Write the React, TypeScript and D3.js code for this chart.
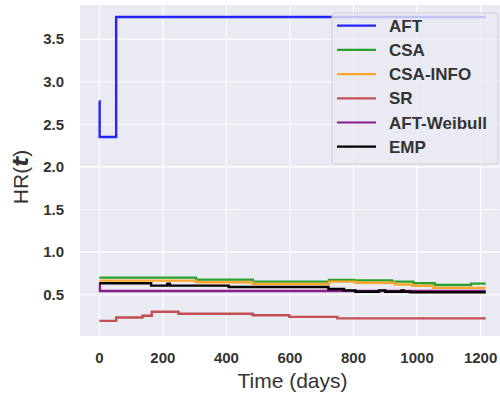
import React, { useRef, useEffect } from "react";
import * as d3 from "d3";

// step series (time in days, hazard ratio)
const aftT = [0, 1, 53, 1216];
const aftV = [2.77, 2.35, 3.76, 3.76];

const csaT = [0, 304, 483, 723, 801, 921, 988, 1056, 1170, 1216];
const csaV = [0.7, 0.677, 0.653, 0.673, 0.668, 0.653, 0.634, 0.614, 0.63, 0.63];

const infoT = [0, 304, 483, 723, 806, 930, 985, 1050, 1216];
const infoV = [0.665, 0.646, 0.626, 0.653, 0.64, 0.62, 0.605, 0.58, 0.58];

const srT = [0, 53, 136, 165, 249, 483, 598, 749, 1216];
const srV = [0.193, 0.233, 0.252, 0.3, 0.276, 0.258, 0.24, 0.222, 0.222];

const weibT = [0, 2, 1216];
const weibV = [0.63, 0.544, 0.544];

const empT = [0, 163, 214, 222, 407, 721, 770, 806, 880, 900, 951, 958, 978, 1216];
const empV = [0.634, 0.606, 0.63, 0.606, 0.59, 0.567, 0.55, 0.535, 0.55, 0.535, 0.55, 0.535, 0.528, 0.528];

const xTicks = [0, 200, 400, 600, 800, 1000, 1200];
const yTicks = [0.5, 1.0, 1.5, 2.0, 2.5, 3.0, 3.5];

const series = [
  { label: "AFT", color: "#2424ff", t: aftT, v: aftV },
  { label: "CSA", color: "#2ca02c", t: csaT, v: csaV },
  { label: "CSA-INFO", color: "#ffa62b", t: infoT, v: infoV },
  { label: "SR", color: "#c44e52", t: srT, v: srV },
  { label: "AFT-Weibull", color: "#8b1a8b", t: weibT, v: weibV },
  { label: "EMP", color: "#000000", t: empT, v: empV },
];

export default function App() {
  const svgRef = useRef<SVGSVGElement>(null);

  useEffect(() => {
    if (!svgRef.current) return;
    const svg = d3.select(svgRef.current);
    svg.selectAll("*").remove();

    const width = 500;
    const height = 397;
    const left = 80, right = 505, top = 5, bottom = 336;
    const font = "'Liberation Sans', Arial, sans-serif";
    const textColor = "#333333";

    const x = d3.scaleLinear().domain([-60.8, 1276.8]).range([left, right]);
    const y = d3.scaleLinear().domain([0.015, 3.9]).range([bottom, top]);

    svg.attr("width", width).attr("height", height);

    // background
    svg.append("rect")
      .attr("x", left).attr("y", top)
      .attr("width", right - left).attr("height", bottom - top)
      .attr("fill", "#eaeaf2");

    // grid
    const grid = svg.append("g");
    xTicks.forEach(t => {
      grid.append("line")
        .attr("x1", x(t)).attr("x2", x(t))
        .attr("y1", top).attr("y2", bottom)
        .attr("stroke", "#fff").attr("stroke-width", 1.1);
    });
    yTicks.forEach(t => {
      grid.append("line")
        .attr("x1", left).attr("x2", right)
        .attr("y1", y(t)).attr("y2", y(t))
        .attr("stroke", "#fff").attr("stroke-width", 1.1);
    });

    // lines
    const line = d3.line<[number, number]>()
      .x(d => x(d[0]))
      .y(d => y(d[1]))
      .curve(d3.curveStepAfter);

    series.forEach(s => {
      const pts = s.t.map((t, i) => [t, s.v[i]] as [number, number]);
      svg.append("path")
        .datum(pts)
        .attr("fill", "none")
        .attr("stroke", s.color)
        .attr("stroke-width", 2.4)
        .attr("d", line);
    });

    // tick labels
    xTicks.forEach(t => {
      svg.append("text")
        .attr("x", x(t)).attr("y", 362.5)
        .attr("text-anchor", "middle")
        .style("font-family", font).style("font-size", "15px")
        .style("font-weight", "bold").style("fill", textColor)
        .text(String(t));
    });
    yTicks.forEach(t => {
      svg.append("text")
        .attr("x", 64).attr("y", y(t) + 5.4)
        .attr("text-anchor", "end")
        .style("font-family", font).style("font-size", "15px")
        .style("font-weight", "bold").style("fill", textColor)
        .text(t.toFixed(1));
    });

    // axis labels
    svg.append("text")
      .attr("x", (left + right) / 2).attr("y", 388)
      .attr("text-anchor", "middle")
      .style("font-family", font).style("font-size", "21px")
      .style("fill", textColor)
      .text("Time (days)");

    const yl = svg.append("text")
      .attr("transform", "translate(28,177) rotate(-90)")
      .attr("text-anchor", "middle")
      .style("font-family", font).style("font-size", "21px")
      .style("fill", textColor);
    yl.append("tspan").text("HR(");
    yl.append("tspan")
      .style("font-family", "'DejaVu Sans', sans-serif")
      .style("font-weight", "bold").style("font-style", "italic")
      .text("t");
    yl.append("tspan").text(")");

    // legend
    const lg = svg.append("g");
    lg.append("rect")
      .attr("x", 332).attr("y", 13)
      .attr("width", 166).attr("height", 151)
      .attr("rx", 3)
      .attr("fill", "#eaeaf2").attr("fill-opacity", 0.8)
      .attr("stroke", "#d0d0d0").attr("stroke-width", 1);

    series.forEach((s, i) => {
      const ry = 25.7 + i * 24.2;
      lg.append("line")
        .attr("x1", 337).attr("x2", 376)
        .attr("y1", ry).attr("y2", ry)
        .attr("stroke", s.color).attr("stroke-width", 2.2);
      lg.append("text")
        .attr("x", 389).attr("y", ry + 6)
        .style("font-family", font).style("font-size", "17px")
        .style("font-weight", "bold").style("fill", textColor)
        .text(s.label);
    });
  }, []);

  return (
    <svg
      ref={svgRef}
      style={{ position: "absolute", left: 0, top: 0, display: "block", background: "#fff" }}
    />
  );
}
